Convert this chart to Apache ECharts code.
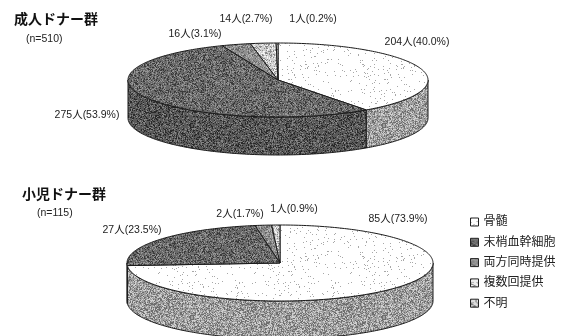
<!DOCTYPE html>
<html><head><meta charset="utf-8">
<style>html,body{margin:0;padding:0;background:#fff}#c{width:570px;height:336px}</style>
<script src="https://cdn.jsdelivr.net/npm/echarts@6/dist/echarts.min.js"></script>
</head><body><div id="c"></div>
<script>
const categories = ['骨髄','末梢血幹細胞','両方同時提供','複数回提供','不明'];
const adultValues = [204,275,16,14,1];
const adultPercents = ['40.0','53.9','3.1','2.7','0.2'];
const childValues = [85,27,2,1,0];
const childPercents = ['73.9','23.5','1.7','0.9','0'];

// layout only
const FONT = '"Liberation Sans","Noto Sans CJK JP",sans-serif';
const adultPie = {cx:278,cy:80,rx:150,ry:37,depth:38};
const childPie = {cx:280,cy:263,rx:153,ry:38,depth:38};
const adultLabelPos = [[417,42],[87,115],[195,34],[246,19],[313,19]];
const childLabelPos = [[398,219],[132,230],[240,214],[294,209],null];

function texture(bg, fg, density, bg2, fg2Density){
  const s=96, c=document.createElement('canvas'); c.width=c.height=s;
  const g=c.getContext('2d'); g.fillStyle=bg; g.fillRect(0,0,s,s);
  for(let y=0;y<s;y++)for(let x=0;x<s;x++){
    let h=Math.imul(x*374761393+y*668265263,1274126177); h^=h>>>13; h=Math.imul(h,1103515245); h^=h>>>16;
    const r=((h>>>0)%1000)/1000;
    if(r<density){g.fillStyle=fg;g.fillRect(x,y,1,1);}
    else if(bg2&&r>1-fg2Density){g.fillStyle=bg2;g.fillRect(x,y,1,1);}
  }
  return {image:c,repeat:'repeat'};
}
const topFills=[
  texture('#ffffff','#a8a8a8',0.035),
  texture('#6a6a6a','#3a3a3a',0.22,'#959595',0.2),
  texture('#8f8f8f','#666666',0.22,'#b4b4b4',0.2),
  texture('#d0d0d0','#8a8a8a',0.25,'#f4f4f4',0.2),
  texture('#ffffff','#888888',0.1)
];
const wallFills=[
  texture('#a0a0a0','#6e6e6e',0.28,'#cfcfcf',0.25),
  texture('#5a5a5a','#2a2a2a',0.24,'#858585',0.18),
  texture('#6c6c6c','#3a3a3a',0.3),
  texture('#aaaaaa','#555555',0.3),
  texture('#dddddd','#555555',0.2)
];
const legendFills=[texture('#ffffff','#999999',0.08),topFills[1],topFills[2],texture('#eeeeee','#888888',0.2),texture('#dddddd','#777777',0.3)];

function pt(p,deg,dy){const t=deg*Math.PI/180;return [p.cx+p.rx*Math.sin(t),p.cy-p.ry*Math.cos(t)+(dy||0)];}
function arcPts(p,a,b,dy){const out=[],n=Math.max(2,Math.ceil(Math.abs(b-a)));for(let i=0;i<=n;i++)out.push(pt(p,a+(b-a)*i/n,dy));return out;}
const lineStyle={stroke:'#1a1a1a',lineWidth:1};

function pieSeries(values,percents,p,labelPos){
  const total=values.reduce((a,b)=>a+b,0);
  const angles=[];let acc=0;
  values.forEach(v=>{const s=acc/total*360;acc+=v;angles.push([s,acc/total*360]);});
  return {type:'custom',coordinateSystem:'none',silent:true,animation:false,z:2,
    data:values.map((v,i)=>({name:categories[i],value:v})),
    renderItem(params){
      const children=[];
      angles.forEach(([a,b],i)=>{
        const s=Math.max(a,90),e=Math.min(b,270);
        if(e>s&&values[i]>0){
          const pts=arcPts(p,s,e,0).concat(arcPts(p,e,s,p.depth));
          children.push({type:'polygon',shape:{points:pts},style:{fill:wallFills[i],...lineStyle}});
        }
      });
      angles.forEach(([a,b],i)=>{
        if(values[i]<=0)return;
        const pts=[[p.cx,p.cy]].concat(arcPts(p,a,b,0));
        children.push({type:'polygon',shape:{points:pts},style:{fill:topFills[i],...lineStyle}});
      });
      values.forEach((v,i)=>{
        if(v<=0||!labelPos[i])return;
        children.push({type:'text',x:labelPos[i][0],y:labelPos[i][1],z2:10,style:{
          text:v+'人('+percents[i]+'%)',font:'10.5px '+FONT,fill:'#222',align:'center',verticalAlign:'middle'}});
      });
      return params.dataIndex===0?{type:'group',children}:{type:'group',children:[]};
    }};
}

const option={
  backgroundColor:'#fff',animation:false,
  graphic:[
    {type:'text',x:14,y:20,style:{text:'成人ドナー群',font:'bold 14px '+FONT,fill:'#111',verticalAlign:'middle'}},
    {type:'text',x:26,y:39,style:{text:'(n=510)',font:'10.5px '+FONT,fill:'#222',verticalAlign:'middle'}},
    {type:'text',x:22,y:195,style:{text:'小児ドナー群',font:'bold 14px '+FONT,fill:'#111',verticalAlign:'middle'}},
    {type:'text',x:37,y:213,style:{text:'(n=115)',font:'10.5px '+FONT,fill:'#222',verticalAlign:'middle'}}
  ],
  legend:{orient:'vertical',left:470,top:216,padding:0,itemWidth:8,itemHeight:8,itemGap:8.3,
    textStyle:{fontFamily:FONT,fontSize:12,color:'#222'},selectedMode:false,
    data:categories.map((n,i)=>({name:n,icon:'rect',itemStyle:{color:legendFills[i],borderColor:'#222',borderWidth:1}}))},
  series:[
    pieSeries(adultValues,adultPercents,adultPie,adultLabelPos),
    pieSeries(childValues,childPercents,childPie,childLabelPos),
    ...categories.map((n,i)=>({type:'custom',name:n,coordinateSystem:'none',data:[],renderItem(){return null;},itemStyle:{color:legendFills[i]}}))
  ]
};
const chart=echarts.init(document.getElementById('c'),null,{renderer:'canvas'});
chart.setOption(option);
</script></body></html>
